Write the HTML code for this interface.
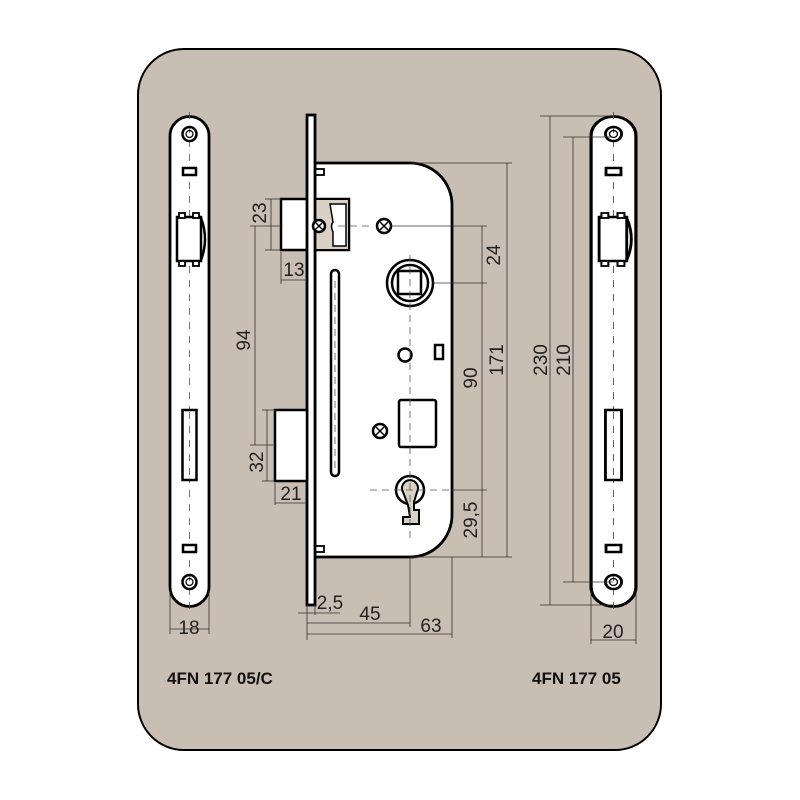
<!DOCTYPE html>
<html><head><meta charset="utf-8"><style>body{margin:0;background:#fff}svg{display:block}</style></head><body>
<svg width="800" height="800" viewBox="0 0 800 800" xmlns="http://www.w3.org/2000/svg" font-family="Liberation Sans, sans-serif">
<rect x="138" y="49" width="523" height="701" rx="46" fill="#c9beb3" stroke="#000" stroke-width="2"/>
<g id="plate">
<path d="M170,136 A19.5,19.5 0 0 1 209,136 L209,587 A19.5,19.5 0 0 1 170,587 Z" fill="#fff" stroke="#000" stroke-width="2.8"/>
<line x1="189.5" y1="112" x2="189.5" y2="615" stroke="#555" stroke-width="0.8" stroke-dasharray="7,7"/>
<circle cx="189.5" cy="134" r="7" fill="none" stroke="#000" stroke-width="2.5"/><circle cx="189.5" cy="134" r="3.5" fill="none" stroke="#000" stroke-width="1.2"/>
<circle cx="189.5" cy="582" r="7" fill="none" stroke="#000" stroke-width="2.5"/><circle cx="189.5" cy="582" r="3.5" fill="none" stroke="#000" stroke-width="1.2"/>
<rect x="183" y="168" width="13" height="7" fill="#fff" stroke="#000" stroke-width="2.5"/>
<rect x="183" y="545" width="13" height="7" fill="#fff" stroke="#000" stroke-width="2.5"/>
<rect x="177" y="217" width="24" height="44" fill="#fff" stroke="#000" stroke-width="2.5"/>
<path d="M201,218 Q209,239 201,260" fill="none" stroke="#000" stroke-width="2.5"/>
<rect x="179" y="213" width="6" height="5" fill="#fff" stroke="#000" stroke-width="1.8"/><rect x="193" y="213" width="6" height="5" fill="#fff" stroke="#000" stroke-width="1.8"/>
<rect x="179" y="261" width="6" height="5" fill="#fff" stroke="#000" stroke-width="1.8"/><rect x="193" y="261" width="6" height="5" fill="#fff" stroke="#000" stroke-width="1.8"/>
<rect x="182.5" y="410" width="14" height="70" fill="#fff" stroke="#000" stroke-width="2.5"/>
<line x1="189.5" y1="412" x2="189.5" y2="478" stroke="#555" stroke-width="0.8" stroke-dasharray="7,7"/>
</g>
<use href="#plate" transform="translate(613.5,0) scale(1.15,1) translate(-189.5,0)"/>
<g stroke="#333" stroke-width="0.8" fill="none">
<line x1="170" y1="590" x2="170" y2="634"/><line x1="209" y1="590" x2="209" y2="634"/><line x1="170" y1="629" x2="209" y2="629"/>
<line x1="591" y1="590" x2="591" y2="644"/><line x1="636" y1="590" x2="636" y2="644"/><line x1="591" y1="640" x2="636" y2="640"/>
<line x1="540" y1="116" x2="613" y2="116"/><line x1="540" y1="605" x2="613" y2="605"/><line x1="550" y1="116" x2="550" y2="605"/>
<line x1="563" y1="137" x2="613" y2="137"/><line x1="563" y1="582" x2="613" y2="582"/><line x1="573" y1="137" x2="573" y2="582"/>
</g>
<g font-size="19" fill="#222">
<text x="189" y="634" text-anchor="middle">18</text>
<text x="613" y="638" text-anchor="middle">20</text>
<text transform="translate(547,360) rotate(-90)" text-anchor="middle">230</text>
<text transform="translate(570,360) rotate(-90)" text-anchor="middle">210</text>
</g>
<!-- main lock -->
<path d="M315,163 L410,163 A42,42 0 0 1 452,205 L452,515 A42,42 0 0 1 410,557 L315,557 Z" fill="#fff" stroke="#000" stroke-width="2.8"/>
<rect x="315" y="169" width="9" height="6" fill="#fff" stroke="#000" stroke-width="1.8"/>
<rect x="315" y="546" width="9" height="6" fill="#fff" stroke="#000" stroke-width="1.8"/>
<rect x="281" y="199" width="68" height="51" fill="#fff" stroke="#000" stroke-width="2.5"/>
<rect x="312" y="199" width="37" height="51" fill="#d9d0c6" stroke="#000" stroke-width="2"/>
<path d="M330,204 L346,204 L346,246 L333,246 L333,232 Q330,226 333,222 Z" fill="#fff" stroke="#000" stroke-width="1.5"/>
<rect x="307" y="115" width="8" height="490" fill="#fff" stroke="#000" stroke-width="2.8"/>
<rect x="275" y="410" width="32" height="71" fill="#fff" stroke="#000" stroke-width="2.5"/>
<g stroke="#000" stroke-width="2.5" fill="#fff">
<circle cx="319" cy="226" r="6"/><circle cx="384" cy="226" r="7"/><circle cx="380" cy="431" r="7"/>
</g>
<g stroke="#000" stroke-width="1.5">
<path d="M315,222 l8,8 M323,222 l-8,8"/><path d="M380,222 l8,8 M388,222 l-8,8"/><path d="M376,427 l8,8 M384,427 l-8,8"/>
</g>
<rect x="331" y="270" width="8" height="206" rx="4" fill="#fff" stroke="#000" stroke-width="2.5"/>
<circle cx="410" cy="283" r="23" fill="#fff" stroke="#000" stroke-width="2.5"/>
<circle cx="410" cy="283" r="18" fill="none" stroke="#000" stroke-width="2.5"/>
<rect x="398" y="271" width="23" height="23" fill="#fff" stroke="#000" stroke-width="2.5"/>
<circle cx="405" cy="355" r="6.5" fill="#fff" stroke="#000" stroke-width="2.5"/>
<rect x="435" y="345" width="8" height="14" fill="#fff" stroke="#000" stroke-width="2.5"/>
<rect x="399" y="400" width="37" height="47" rx="2" fill="#fff" stroke="#000" stroke-width="2.5"/>
<circle cx="410" cy="490" r="14" fill="#fff" stroke="#000" stroke-width="2.5"/>
<path d="M403,492 A8,8 0 1 1 417,492 L414,502 L414,510 L419,510 L419,524 L403,524 L403,517 L410,517 L408,505 Z" fill="#d9d0c6" stroke="#000" stroke-width="2"/>
<g stroke="#555" stroke-width="0.8" fill="none" stroke-dasharray="7,5">
<line x1="410" y1="255" x2="410" y2="540"/><line x1="338" y1="226" x2="372" y2="226"/><line x1="370" y1="490" x2="452" y2="490"/><line x1="335" y1="281" x2="335" y2="470"/>
</g>
<g stroke="#333" stroke-width="0.8" fill="none">
<line x1="410" y1="163" x2="512" y2="163"/><line x1="410" y1="557" x2="512" y2="557"/><line x1="507" y1="163" x2="507" y2="557"/>
<line x1="390" y1="226" x2="487" y2="226"/><line x1="433" y1="283" x2="487" y2="283"/><line x1="482" y1="226" x2="482" y2="557"/><line x1="452" y1="490" x2="487" y2="490"/>
<line x1="265" y1="199" x2="281" y2="199"/><line x1="265" y1="250" x2="281" y2="250"/><line x1="271" y1="199" x2="271" y2="250"/>
<line x1="281" y1="252" x2="281" y2="284"/><line x1="281" y1="280" x2="307" y2="280"/>
<line x1="250" y1="226" x2="281" y2="226"/><line x1="255" y1="226" x2="255" y2="445"/><line x1="250" y1="445" x2="275" y2="445"/>
<line x1="262" y1="410" x2="275" y2="410"/><line x1="262" y1="481" x2="275" y2="481"/><line x1="267" y1="410" x2="267" y2="481"/>
<line x1="275" y1="483" x2="275" y2="505"/><line x1="275" y1="503" x2="307" y2="503"/>
<line x1="307" y1="605" x2="307" y2="640"/><line x1="315" y1="605" x2="315" y2="615"/><line x1="298" y1="613" x2="340" y2="613"/>
<line x1="410" y1="557" x2="410" y2="627"/><line x1="307" y1="623" x2="410" y2="623"/>
<line x1="452" y1="557" x2="452" y2="638"/><line x1="307" y1="634" x2="452" y2="634"/>
</g>
<g font-size="19" fill="#222">
<text transform="translate(266,213) rotate(-90)" text-anchor="middle">23</text>
<text x="294" y="276" text-anchor="middle">13</text>
<text transform="translate(250,340) rotate(-90)" text-anchor="middle">94</text>
<text transform="translate(263,462) rotate(-90)" text-anchor="middle">32</text>
<text x="291" y="500" text-anchor="middle">21</text>
<text transform="translate(500,255) rotate(-90)" text-anchor="middle">24</text>
<text transform="translate(477,378) rotate(-90)" text-anchor="middle">90</text>
<text transform="translate(503,360) rotate(-90)" text-anchor="middle">171</text>
<text transform="translate(477,520) rotate(-90)" text-anchor="middle">29,5</text>
<text x="330" y="609" text-anchor="middle">2,5</text>
<text x="370" y="620" text-anchor="middle">45</text>
<text x="431" y="632" text-anchor="middle">63</text>
</g>
<g font-size="17" font-weight="bold" fill="#111">
<text x="167" y="684">4FN 177 05/C</text>
<text x="532" y="684">4FN 177 05</text>
</g>
</svg>
</body></html>
